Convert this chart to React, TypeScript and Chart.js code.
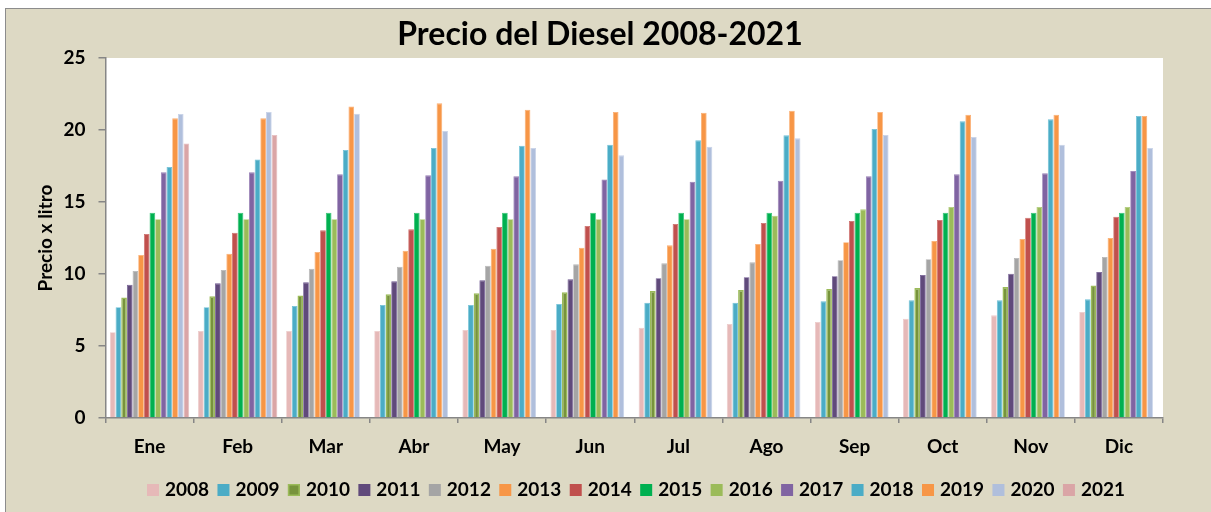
import React, { useEffect, useRef } from "react";
import { Chart, registerables } from "chart.js";

Chart.register(...registerables);

// Months on the category axis
const months = ["Ene", "Feb", "Mar", "Abr", "May", "Jun", "Jul", "Ago", "Sep", "Oct", "Nov", "Dic"];

// Series names (one per year)
const years = ["2008", "2009", "2010", "2011", "2012", "2013", "2014", "2015", "2016", "2017", "2018", "2019", "2020", "2021"];

// Monthly diesel price per litre, one array per year
const p2008 = [5.95, 6.04, 6.04, 6.04, 6.11, 6.11, 6.26, 6.53, 6.67, 6.9, 7.13, 7.36];
const p2009 = [7.69, 7.69, 7.78, 7.85, 7.85, 7.92, 8.01, 8.01, 8.1, 8.17, 8.17, 8.24];
const p2010 = [8.36, 8.45, 8.5, 8.59, 8.66, 8.73, 8.82, 8.89, 8.96, 9.03, 9.1, 9.21];
const p2011 = [9.26, 9.35, 9.42, 9.49, 9.56, 9.63, 9.7, 9.77, 9.84, 9.93, 10.02, 10.14];
const p2012 = [10.21, 10.28, 10.37, 10.51, 10.58, 10.67, 10.74, 10.81, 10.95, 11.02, 11.11, 11.18];
const p2013 = [11.32, 11.41, 11.53, 11.62, 11.76, 11.83, 11.99, 12.08, 12.2, 12.29, 12.43, 12.5];
const p2014 = [12.78, 12.87, 13.03, 13.1, 13.26, 13.33, 13.47, 13.54, 13.68, 13.75, 13.91, 13.98];
const p2015 = [14.26, 14.26, 14.26, 14.26, 14.26, 14.26, 14.26, 14.26, 14.26, 14.26, 14.26, 14.26];
const p2016 = [13.8, 13.8, 13.8, 13.8, 13.8, 13.8, 13.8, 14.05, 14.49, 14.65, 14.65, 14.65];
const p2017 = [17.06, 17.06, 16.92, 16.85, 16.78, 16.57, 16.41, 16.48, 16.78, 16.92, 16.99, 17.15];
const p2018 = [17.43, 17.96, 18.61, 18.75, 18.91, 18.98, 19.28, 19.63, 20.07, 20.6, 20.74, 20.97];
const p2019 = [20.81, 20.81, 21.64, 21.85, 21.41, 21.25, 21.2, 21.34, 21.25, 21.06, 21.06, 20.97];
const p2020 = [21.11, 21.25, 21.13, 19.93, 18.75, 18.24, 18.84, 19.42, 19.65, 19.51, 18.98, 18.75];
const p2021 = [19.07, 19.65, null, null, null, null, null, null, null, null, null, null];

const series = [p2008, p2009, p2010, p2011, p2012, p2013, p2014, p2015, p2016, p2017, p2018, p2019, p2020, p2021];

// Y axis ticks
const yTicks = [0, 5, 10, 15, 20, 25];

const TITLE = "Precio del Diesel 2008-2021";
const Y_TITLE = "Precio x litro";

const fills = [
  "#E6B9B8", "#4BACC6", "#77933C", "#604A7B", "#A5A5A5", "#F79646", "#C0504D",
  "#00B050", "#9BBB59", "#8064A2", "#4BACC6", "#F79646", "#B0BFDC", "#DAA5A6",
];
const edges = [
  "#EDCBCA", "#6CC0D6", "#9BBB59", "#6E5890", "#B5B5B5", "#FAAD70", "#CC6B68",
  "#2EC26E", "#AECB78", "#957CB4", "#6CC0D6", "#FAAD70", "#C6D1E8", "#E6BDBE",
];

const FONT = "Lato, 'Noto Sans', sans-serif";

// Paints the plot area white
const plotBackground = {
  id: "plotBackground",
  beforeDraw(chart: any) {
    const { ctx, chartArea } = chart;
    ctx.save();
    ctx.fillStyle = "#FFFFFF";
    ctx.fillRect(chartArea.left, chartArea.top, chartArea.right - chartArea.left, chartArea.bottom - chartArea.top);
    ctx.restore();
  },
};

// Title across the whole frame and a one-row legend under the axis
const frameText = {
  id: "frameText",
  afterDraw(chart: any) {
    const { ctx } = chart;
    ctx.save();
    ctx.fillStyle = "#000";
    ctx.font = `bold 32px ${FONT}`;
    ctx.textAlign = "center";
    ctx.textBaseline = "alphabetic";
    ctx.fillText(TITLE, 600, 45);

    ctx.font = `bold 19px ${FONT}`;
    ctx.textAlign = "left";
    const box = 12;
    const gapText = 6;
    const left = 147;
    const right = 1125;
    const metas = chart.data.datasets.map((d: any) => ctx.measureText(d.label).width);
    const used = metas.reduce((a: number, w: number) => a + box + gapText + w, 0);
    const gap = (right - left - used) / (metas.length - 1);
    let x = left;
    chart.data.datasets.forEach((d: any, i: number) => {
      ctx.fillStyle = d.backgroundColor;
      ctx.fillRect(x, 484, box, box);
      if (i === 2) {
        ctx.strokeStyle = d.borderColor;
        ctx.lineWidth = 1.5;
        ctx.strokeRect(x + 0.75, 484.75, box - 1.5, box - 1.5);
      }
      ctx.fillStyle = "#000";
      ctx.fillText(d.label, x + box + gapText, 495.5);
      x += box + gapText + metas[i] + gap;
    });
    ctx.restore();
  },
};

export default function App() {
  const ref = useRef<HTMLCanvasElement>(null);

  useEffect(() => {
    const chart = new Chart(ref.current as HTMLCanvasElement, {
      type: "bar",
      data: {
        labels: months,
        datasets: series.map((values, i) => ({
          label: years[i],
          data: values,
          backgroundColor: fills[i],
          borderColor: edges[i],
          borderWidth: i === 2 ? 1.5 : 0.8,
          categoryPercentage: 0.9,
          barPercentage: 1.0,
        })),
      },
      options: {
        responsive: false,
        devicePixelRatio: 1,
        animation: false,
        layout: { padding: { left: 0, right: 48, top: 58, bottom: 40 } },
        plugins: {
          title: { display: false },
          legend: { display: false },
          tooltip: { enabled: false },
        },
        scales: {
          x: {
            afterFit: (s: any) => {
              s.height = 54;
            },
            border: { color: "#868686", width: 1.5 },
            grid: {
              offset: true,
              drawOnChartArea: false,
              drawTicks: true,
              tickLength: 5,
              color: "#868686",
              lineWidth: 1.5,
            },
            ticks: {
              color: "#000",
              font: { family: FONT, size: 19, weight: "bold" },
              padding: 12,
            },
          },
          y: {
            min: 0,
            max: 25,
            afterFit: (s: any) => {
              s.width = 105.5;
            },
            afterBuildTicks: (s: any) => {
              s.ticks = yTicks.map((v) => ({ value: v }));
            },
            border: { color: "#868686", width: 1.5 },
            grid: {
              drawOnChartArea: false,
              drawTicks: true,
              tickLength: 7,
              color: "#868686",
              lineWidth: 1.5,
            },
            ticks: {
              color: "#000",
              font: { family: FONT, size: 19, weight: "bold" },
              padding: 13,
            },
            title: {
              display: true,
              text: Y_TITLE,
              color: "#000",
              font: { family: FONT, size: 19, weight: "bold" },
              padding: { top: 34, bottom: 0 },
            },
          },
        },
      },
      plugins: [plotBackground, frameText],
    });
    return () => chart.destroy();
  }, []);

  return (
    <div style={{ position: "fixed", left: 0, top: 0, width: 1211, height: 512, overflow: "hidden" }}>
      <div
        style={{
          position: "absolute",
          left: 5,
          top: 8,
          width: 1240,
          height: 540,
          background: "#DDD9C4",
          border: "1.5px solid #8C8C8C",
          boxSizing: "border-box",
        }}
      />
      <canvas
        ref={ref}
        width={1211}
        height={512}
        style={{ position: "absolute", left: 0, top: 0, width: 1211, height: 512 }}
      />
    </div>
  );
}
